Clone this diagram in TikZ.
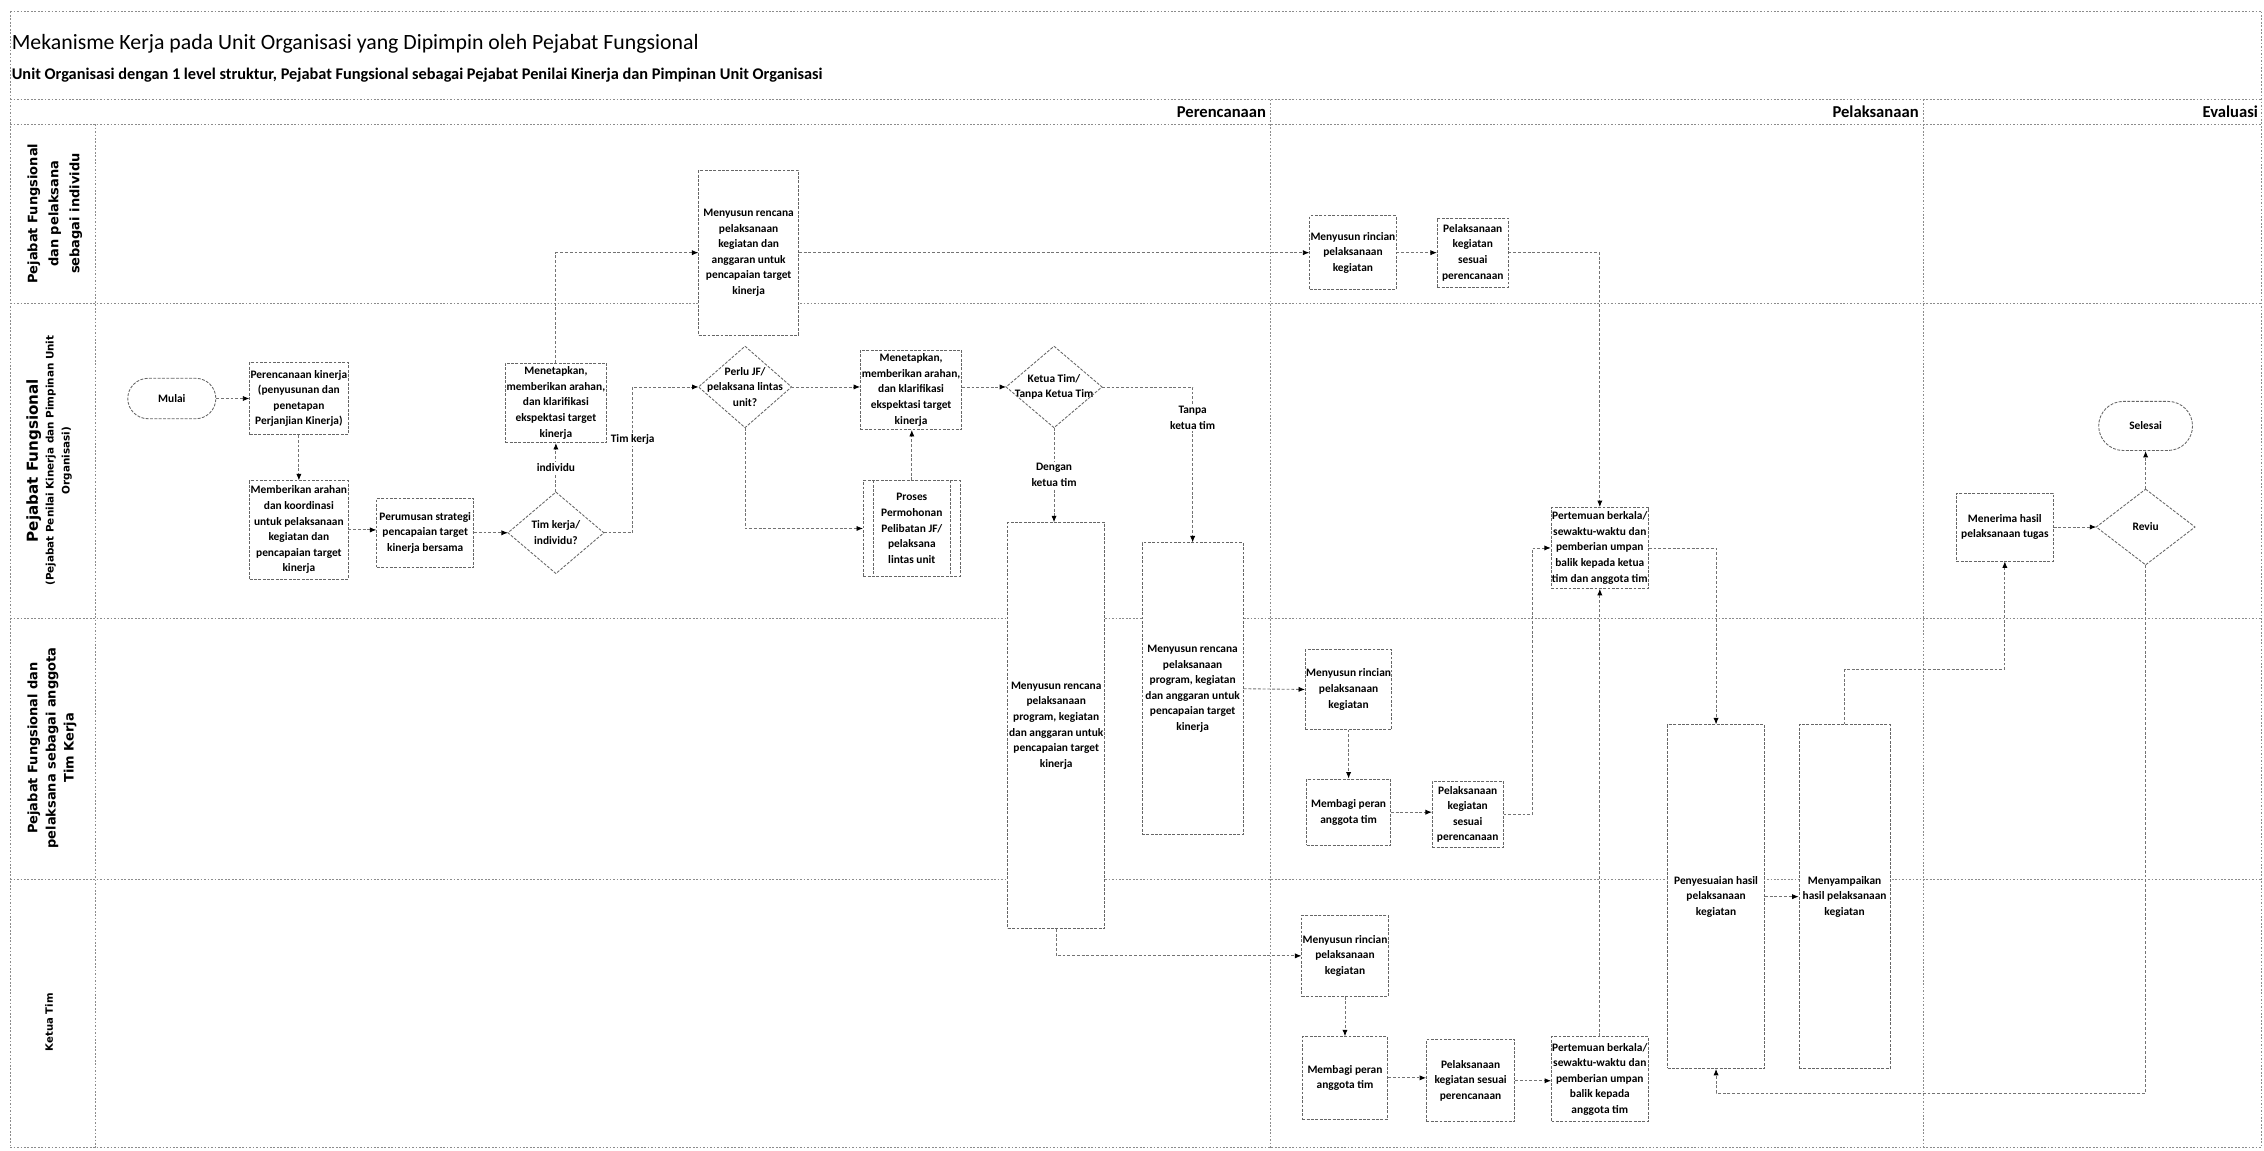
\documentclass[tikz,border=0pt]{standalone}
\usepackage{fontspec}
\setmainfont{Carlito}
\newfontfamily\lanefont{DejaVu Sans}
\usetikzlibrary{arrows.meta,shapes.misc,calc}
\newcommand\bxfont{\bfseries\fontsize{7.9}{10.8}\selectfont}
\begin{document}
\begin{tikzpicture}[x=1pt,y=-1pt,
  lane/.style={draw=black!45, line width=0.6pt, dash pattern=on 1.2pt off 1.2pt},
  link/.style={draw=black!55, line width=0.6pt, dash pattern=on 2pt off 1.3pt},
  conn/.style={link, -{Latex[length=4.5pt,width=3.6pt,color=black]}},
  boxline/.style={draw=black!60, line width=0.6pt, dash pattern=on 2pt off 1pt},
  box/.style={boxline, fill=white, align=center, font=\bxfont, inner sep=0.5pt, rectangle},
  dnode/.style={align=center, font=\bxfont, inner sep=0pt, rectangle},
  term/.style={box, rounded rectangle},
  lbl/.style={fill=white, align=center, font=\bxfont, inner sep=1pt},
  phase/.style={anchor=east, font=\bfseries\fontsize{11.5}{13}\selectfont, inner sep=0},
]
\useasboundingbox (0,0) rectangle (1568,797);
% swimlane frame
\draw[lane] (7,8) -- (1566,8);
\draw[lane] (7,69) -- (1566,69);
\draw[lane] (7,86) -- (1566,86);
\draw[lane] (7,210) -- (1566,210);
\draw[lane] (7,428) -- (1566,428);
\draw[lane] (7,609) -- (1566,609);
\draw[lane] (7,795) -- (1566,795);
\draw[lane] (7,8) -- (7,795);
\draw[lane] (1566,8) -- (1566,795);
\draw[lane] (66,86) -- (66,795);
\draw[lane] (880,69) -- (880,795);
\draw[lane] (1332,69) -- (1332,795);
% titles
\node[anchor=west, font=\fontsize{15.1}{18}\selectfont, inner sep=0] (title) at (8,30) {Mekanisme Kerja pada Unit Organisasi yang Dipimpin oleh Pejabat Fungsional};
\node[anchor=west, font=\bfseries\fontsize{11.3}{13}\selectfont, inner sep=0] (subtitle) at (8,52) {Unit Organisasi dengan 1 level struktur, Pejabat Fungsional sebagai Pejabat Penilai Kinerja dan Pimpinan Unit Organisasi};
\node[phase] (ph1) at (877,77.5) {Perencanaan};
\node[phase] (ph2) at (1329,77.5) {Pelaksanaan};
\node[phase] (ph3) at (1564,77.5) {Evaluasi};
% lane labels
\node[rotate=90, align=center, font=\lanefont\bfseries\fontsize{9}{14.5}\selectfont] (lane1) at (38,148) {Pejabat Fungsional\\dan pelaksana\\sebagai individu};
\node[rotate=90, align=center, font=\lanefont\bfseries\fontsize{7.2}{11}\selectfont] (lane2) at (34,319) {{\fontsize{10.5}{12}\selectfont Pejabat Fungsional}\\(Pejabat Penilai Kinerja dan Pimpinan Unit\\Organisasi)};
\node[rotate=90, align=center, font=\lanefont\bfseries\fontsize{9}{12.5}\selectfont] (lane3) at (36,518) {Pejabat Fungsional dan\\pelaksana sebagai anggota\\Tim Kerja};
\node[rotate=90, font=\lanefont\bfseries\fontsize{7}{9}\selectfont] (lane4) at (34,708) {Ketua Tim};
% nodes
\node[term, minimum width=62pt, minimum height=28pt] (mulai) at (119,276) {Mulai};
\node[box, minimum width=68pt, minimum height=50pt] (perenc) at (207,276) {Perencanaan kinerja\\(penyusunan dan\\penetapan\\Perjanjian Kinerja)};
\node[box, minimum width=68pt, minimum height=68pt] (memberi) at (207,367) {Memberikan arahan\\dan koordinasi\\untuk pelaksanaan\\kegiatan dan\\pencapaian target\\kinerja};
\node[box, minimum width=67pt, minimum height=48pt] (perumusan) at (294.5,369) {Perumusan strategi\\pencapaian target\\kinerja bersama};
\node[dnode, minimum width=66pt, minimum height=56pt] (timkerja) at (385,369) {Tim kerja/\\individu?};
\node[box, minimum width=70pt, minimum height=55pt] (menetapkan1) at (385,279) {Menetapkan,\\memberikan arahan,\\dan klarifikasi\\ekspektasi target\\kinerja};
\node[box, minimum width=69pt, minimum height=114pt] (menyusun1) at (518.5,175) {Menyusun rencana\\pelaksanaan\\kegiatan dan\\anggaran untuk\\pencapaian target\\kinerja};
\node[dnode, minimum width=64pt, minimum height=56pt] (perlu) at (516,268) {Perlu JF/\\pelaksana lintas\\unit?};
\node[box, minimum width=70pt, minimum height=55pt] (menetapkan2) at (631,270) {Menetapkan,\\memberikan arahan,\\dan klarifikasi\\ekspektasi target\\kinerja};
\node[box, minimum width=67pt, minimum height=66pt] (proses) at (631.5,366) {Proses\\Permohonan\\Pelibatan JF/\\pelaksana\\lintas unit};
\node[dnode, minimum width=66pt, minimum height=56pt] (ketua) at (730,268) {Ketua Tim/\\Tanpa Ketua Tim};
\node[box, minimum width=67pt, minimum height=281pt] (tall1) at (731.5,502.5) {Menyusun rencana\\pelaksanaan\\program, kegiatan\\dan anggaran untuk\\pencapaian target\\kinerja};
\node[box, minimum width=70pt, minimum height=202pt] (tall2) at (826,477) {Menyusun rencana\\pelaksanaan\\program, kegiatan\\dan anggaran untuk\\pencapaian target\\kinerja};
\node[box, minimum width=59pt, minimum height=51pt] (rincian1) at (937,175) {Menyusun rincian\\pelaksanaan\\kegiatan};
\node[box, minimum width=49pt, minimum height=48pt] (pelak1) at (1020,175) {Pelaksanaan\\kegiatan\\sesuai\\perencanaan};
\node[box, minimum width=65pt, minimum height=56pt] (pertemuan2) at (1108,379.5) {Pertemuan berkala/\\sewaktu-waktu dan\\pemberian umpan\\balik kepada ketua\\tim dan anggota tim};
\node[box, minimum width=67pt, minimum height=47pt] (menerima) at (1388.5,365) {Menerima hasil\\pelaksanaan tugas};
\node[dnode, minimum width=68pt, minimum height=52pt] (revu) at (1486,365) {Reviu};
\node[term, minimum width=66pt, minimum height=34pt] (selesai) at (1486,295) {Selesai};
\node[box, minimum width=58pt, minimum height=55pt] (rincian3) at (934,477.5) {Menyusun rincian\\pelaksanaan\\kegiatan};
\node[box, minimum width=58pt, minimum height=46pt] (membagi3) at (934,562.5) {Membagi peran\\anggota tim};
\node[box, minimum width=49pt, minimum height=46pt] (pelak3) at (1016.5,564) {Pelaksanaan\\kegiatan\\sesuai\\perencanaan};
\node[box, minimum width=67pt, minimum height=238pt] (penyesuaian) at (1188.5,621) {Penyesuaian hasil\\pelaksanaan\\kegiatan};
\node[box, minimum width=63pt, minimum height=238pt] (menyampaikan) at (1277.5,621) {Menyampaikan\\hasil pelaksanaan\\kegiatan};
\node[box, minimum width=59pt, minimum height=56pt] (rincian4) at (931.5,662) {Menyusun rincian\\pelaksanaan\\kegiatan};
\node[box, minimum width=59pt, minimum height=57pt] (membagi4) at (931.5,746.5) {Membagi peran\\anggota tim};
\node[box, minimum width=61pt, minimum height=57pt] (pelak4) at (1018.5,748.5) {Pelaksanaan\\kegiatan sesuai\\perencanaan};
\node[box, minimum width=66pt, minimum height=59pt] (pertemuan4) at (1108,747.5) {Pertemuan berkala/\\sewaktu-waktu dan\\pemberian umpan\\balik kepada\\anggota tim};
% diamond outlines and predefined-process bars
\foreach \d in {timkerja,perlu,ketua,revu}
  \draw[boxline] (\d.north) -- (\d.east) -- (\d.south) -- (\d.west) -- cycle;
\draw[boxline] ([xshift=7pt]proses.north west) -- ([xshift=7pt]proses.south west);
\draw[boxline] ([xshift=-7pt]proses.north east) -- ([xshift=-7pt]proses.south east);
% connectors
\draw[conn] (mulai.east) -- (perenc.west);
\draw[conn] (perenc.south) -- (memberi.north);
\draw[conn] (memberi.east) -- (memberi.east -| perumusan.west);
\draw[conn] (perumusan.east) -- (timkerja.west);
\draw[conn] (timkerja.north) -- node[lbl]{individu} (menetapkan1.south);
\draw[conn] (timkerja.east) -- ++(20,0) |- node[lbl, pos=0.32]{Tim kerja} (perlu.west);
\draw[conn] (menetapkan1.north) |- (menyusun1.west);
\draw[conn] (menyusun1.east) -- (rincian1.west);
\draw[conn] (rincian1.east) -- (pelak1.west);
\draw[conn] (pelak1.east) -| (pertemuan2.north);
\draw[conn] (perlu.east) -- (perlu.east -| menetapkan2.west);
\draw[conn] (perlu.south) |- (proses.west);
\draw[conn] (proses.north) -- (proses.north |- menetapkan2.south);
\draw[conn] (menetapkan2.east |- ketua.west) -- (ketua.west);
\draw[conn] (ketua.south) -- node[lbl]{Dengan\\ketua tim} (ketua.south |- tall1.north);
\draw[conn] (ketua.east) -| node[lbl, pos=0.6]{Tanpa\\ketua tim} (tall2.north);
\draw[conn] (tall2.east) -- (rincian3.west);
\draw[conn] (tall1.south) |- (rincian4.west);
\draw[conn] (rincian3.south) -- (membagi3.north);
\draw[conn] (membagi3.east) -- (membagi3.east -| pelak3.west);
\draw[conn] (pelak3.east) -- ++(20,0) |- (pertemuan2.west);
\draw[conn] (pertemuan2.east) -| (penyesuaian.north);
\draw[conn] (penyesuaian.east) -- (menyampaikan.west);
\draw[conn] (menyampaikan.north) -- ++(0,-38) -| (menerima.south);
\draw[conn] (menerima.east) -- (revu.west);
\draw[conn] (revu.north) -- (selesai.south);
\coordinate (rvturn) at (1486,757);
\draw[conn] (revu.south) -- (rvturn) -| (penyesuaian.south);
\draw[conn] (rincian4.south) -- (membagi4.north);
\draw[conn] (membagi4.east) -- (membagi4.east -| pelak4.west);
\draw[conn] (pelak4.east) -- (pelak4.east -| pertemuan4.west);
\draw[conn] (pertemuan4.north) -- (pertemuan2.south);
\end{tikzpicture}
\end{document}
